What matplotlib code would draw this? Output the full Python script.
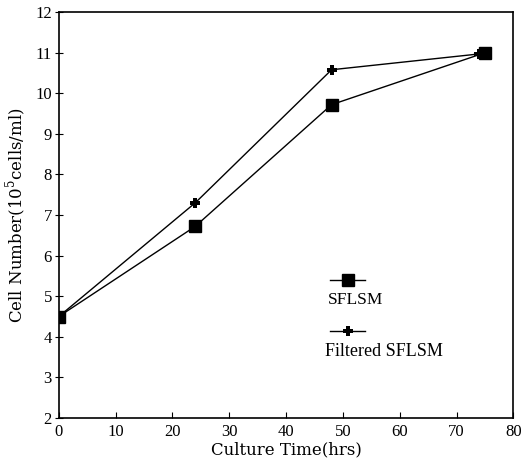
import matplotlib
matplotlib.use('Agg')

import matplotlib.pyplot as plt

plt.rcParams['font.family'] = 'Liberation Serif'
plt.rcParams['mathtext.fontset'] = 'custom'
plt.rcParams['mathtext.rm'] = 'DejaVu Serif'

# culture time (hrs) and cell number (10^5 cells/ml)
hours_sflsm = [0, 24, 48, 75]
cells_sflsm = [4.5, 6.72, 9.72, 11.0]
hours_filtered = [0, 24, 48, 74]
cells_filtered = [4.5, 7.3, 10.58, 10.97]

xticks = [0, 10, 20, 30, 40, 50, 60, 70, 80]
yticks = [2, 3, 4, 5, 6, 7, 8, 9, 10, 11, 12]

fig = plt.figure(figsize=(5.25, 4.66), dpi=100)
ax = fig.add_axes([0.112, 0.103, 0.866, 0.871])

ax.plot(hours_sflsm, cells_sflsm, color='black', lw=1.0,
        marker='s', markersize=8.5, zorder=3)
ax.plot(hours_filtered, cells_filtered, color='black', lw=1.0,
        marker='P', markersize=7, markeredgewidth=0, zorder=3)

ax.set_xlim(0, 80)
ax.set_ylim(2, 12)
ax.set_xticks(xticks)
ax.set_yticks(yticks)
ax.tick_params(axis='x', direction='in', length=4, labelsize=12, pad=4)
ax.tick_params(axis='y', direction='inout', length=6, labelsize=12, pad=2)
for s in ax.spines.values():
    s.set_linewidth(1.2)

ax.set_xlabel('Culture Time(hrs)', fontsize=12, family='DejaVu Serif',
              labelpad=1)
ax.set_ylabel('Cell Number(10$^5$cells/ml)', fontsize=12,
              family='DejaVu Serif', labelpad=5)

# hand-made legend: handle above label
ax.plot([0.597, 0.674], [0.340, 0.340], transform=ax.transAxes,
        color='black', lw=1.0)
ax.plot([0.6355], [0.340], transform=ax.transAxes, color='black',
        marker='s', markersize=8.5)
ax.text(0.592, 0.290, 'SFLSM', transform=ax.transAxes, fontsize=12.5,
        va='center', ha='left')
ax.plot([0.597, 0.674], [0.214, 0.214], transform=ax.transAxes,
        color='black', lw=1.0)
ax.plot([0.6355], [0.214], transform=ax.transAxes, color='black',
        marker='P', markersize=7, markeredgewidth=0)
ax.text(0.586, 0.163, 'Filtered SFLSM', transform=ax.transAxes,
        fontsize=13, va='center', ha='left')

fig.savefig('out.png', dpi=100)
